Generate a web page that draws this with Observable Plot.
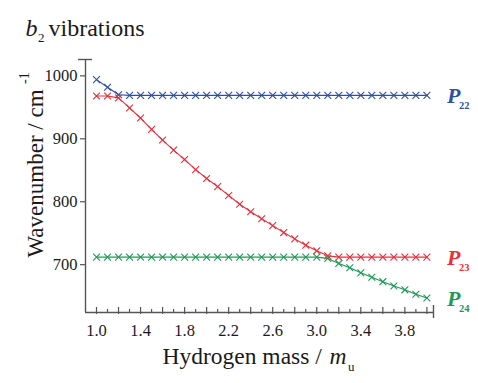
<!DOCTYPE html>
<html>
<head>
<meta charset="utf-8">
<script src="https://cdn.jsdelivr.net/npm/d3@7"></script>
<script src="https://cdn.jsdelivr.net/npm/@observablehq/plot@0.6"></script>
<style>
  html, body { margin: 0; padding: 0; background: #fff; }
</style>
</head>
<body>
<div id="chart"></div>
<script>
// ---- data ----
const mass = [1.0,1.1,1.2,1.3,1.4,1.5,1.6,1.7,1.8,1.9,2.0,2.1,2.2,2.3,2.4,2.5,2.6,2.7,2.8,2.9,3.0,3.1,3.2,3.3,3.4,3.5,3.6,3.7,3.8,3.9,4.0];
const p22 = [994,982,970,969,969,969,969,969,969,969,969,969,969,969,969,969,969,969,969,969,969,969,969,969,969,969,969,969,969,969,969];
const p23 = [968,968,965,949,933,915,898,882,867,851,837,824,810,796,784,773,762,751,741,731,722,714,712,712,712,712,712,712,712,712,712];
const p24 = [712,712,712,712,712,712,712,712,712,712,712,712,712,712,712,712,712,712,712,712,712,710,702,695,687,680,673,666,660,653,647];
const seriesNames = ["P22", "P23", "P24"];
const seriesSubs = ["22", "23", "24"];
const seriesColors = ["#2f4fa6", "#ec2d3a", "#1d9a55"];
const xTickLabels = [1.0, 1.4, 1.8, 2.2, 2.6, 3.0, 3.4, 3.8];
const xTicksMajor = [1.0,1.2,1.4,1.6,1.8,2.0,2.2,2.4,2.6,2.8,3.0,3.2,3.4,3.6,3.8,4.0];
const xTicksMinor = [1.1,1.3,1.5,1.7,1.9,2.1,2.3,2.5,2.7,2.9,3.1,3.3,3.5,3.7,3.9];
const yTicks = [700, 800, 900, 1000];
const xDomain = [0.9, 4.06];
const yDomain = [624, 1026];

// ---- build tidy table ----
const allSeries = [p22, p23, p24];
const rows = [];
allSeries.forEach((vals, s) => vals.forEach((v, i) => rows.push({series: seriesNames[s], x: mass[i], y: v})));
const ends = allSeries.map((vals, s) => ({series: seriesNames[s], sub: seriesSubs[s], x: mass[mass.length - 1], y: vals[vals.length - 1]}));

const serif = "'Liberation Serif', 'Times New Roman', Times, serif";
const axisColor = "#555";
const textColor = "#1a1a1a";

const chart = Plot.plot({
  width: 478,
  height: 383,
  marginLeft: 85,
  marginRight: 45,
  marginTop: 59,
  marginBottom: 71,
  style: {background: "#fff", fontFamily: serif},
  x: {domain: xDomain, axis: null},
  y: {domain: yDomain, axis: null},
  color: {domain: seriesNames, range: seriesColors},
  marks: [
    // axis lines
    Plot.ruleX([xDomain[0]], {stroke: axisColor, strokeWidth: 1.4}),
    Plot.ruleY([yDomain[0]], {stroke: axisColor, strokeWidth: 1.4}),
    // caps
    Plot.ruleY([yDomain[1]], {x1: xDomain[0], x2: xDomain[0], insetLeft: -7, insetRight: -7, stroke: axisColor, strokeWidth: 1.4}),
    Plot.ruleX([xDomain[1]], {y1: yDomain[0], y2: yDomain[0], insetTop: -7, insetBottom: -6, stroke: axisColor, strokeWidth: 1.4}),
    // x ticks
    Plot.ruleX(xTicksMajor, {y1: yDomain[0], y2: yDomain[0], insetTop: -5, insetBottom: -2, stroke: axisColor, strokeWidth: 1.2}),
    Plot.ruleX(xTicksMinor, {y1: yDomain[0], y2: yDomain[0], insetTop: -3, insetBottom: 0, stroke: axisColor, strokeWidth: 1.2}),
    // y ticks
    Plot.ruleY(yTicks, {x1: xDomain[0], x2: xDomain[0], insetLeft: -5, insetRight: 0, stroke: axisColor, strokeWidth: 1.2}),
    // tick labels
    Plot.text(xTickLabels, {x: d => d, text: d => d.toFixed(1), frameAnchor: "bottom", lineAnchor: "bottom", dy: 23, fontSize: 16.5, fontFamily: serif, fill: textColor}),
    Plot.text(yTicks, {y: d => d, text: d => String(d), frameAnchor: "left", textAnchor: "end", lineAnchor: "middle", dx: -8, fontSize: 16.5, fontFamily: serif, fill: textColor}),
    // series lines and markers
    Plot.line(rows, {x: "x", y: "y", z: "series", stroke: "series", strokeWidth: 1.1}),
    Plot.dot(rows, {x: "x", y: "y", stroke: "series", symbol: "times", r: 3.2, strokeWidth: 1.1}),
    // series labels
    Plot.text(ends, {x: "x", y: "y", text: d => "P", fill: "series", dx: 20, dy: 8, textAnchor: "start", lineAnchor: "bottom", fontSize: 22, fontWeight: "bold", fontStyle: "italic", fontFamily: serif}),
    Plot.text(ends, {x: "x", y: "y", text: "sub", fill: "series", dx: 32, dy: 14, textAnchor: "start", lineAnchor: "bottom", fontSize: 10.5, fontWeight: "bold", fontFamily: serif}),
    // title
    Plot.text(["b"], {frameAnchor: "top-left", text: d => d, dx: -60, dy: -24, textAnchor: "start", lineAnchor: "bottom", fontSize: 24, fontStyle: "italic", fontFamily: serif, fill: textColor}),
    Plot.text(["2"], {frameAnchor: "top-left", text: d => d, dx: -47.5, dy: -18, textAnchor: "start", lineAnchor: "bottom", fontSize: 13, fontFamily: serif, fill: textColor}),
    Plot.text(["vibrations"], {frameAnchor: "top-left", text: d => d, dx: -37, dy: -24, textAnchor: "start", lineAnchor: "bottom", fontSize: 24, fontFamily: serif, fill: textColor}),
    // x axis label
    Plot.text(["Hydrogen mass /"], {frameAnchor: "bottom-left", text: d => d, dx: 77, dy: 51, textAnchor: "start", lineAnchor: "bottom", fontSize: 23.5, fontFamily: serif, fill: textColor}),
    Plot.text(["m"], {frameAnchor: "bottom-left", text: d => d, dx: 244, dy: 51, textAnchor: "start", lineAnchor: "bottom", fontSize: 23.5, fontStyle: "italic", fontFamily: serif, fill: textColor}),
    Plot.text(["u"], {frameAnchor: "bottom-left", text: d => d, dx: 262.5, dy: 58, textAnchor: "start", lineAnchor: "bottom", fontSize: 13, fontFamily: serif, fill: textColor}),
    // y axis label
    Plot.text(["Wavenumber / cm"], {frameAnchor: "left", text: d => d, rotate: -90, dx: -43, dy: 71.5, textAnchor: "start", lineAnchor: "bottom", fontSize: 23, fontFamily: serif, fill: textColor}),
    Plot.text(["-1"], {frameAnchor: "left", text: d => d, rotate: -90, dx: -57, dy: -102, textAnchor: "start", lineAnchor: "bottom", fontSize: 14, fontFamily: serif, fill: textColor})
  ]
});
document.getElementById("chart").appendChild(chart);
</script>
</body>
</html>
